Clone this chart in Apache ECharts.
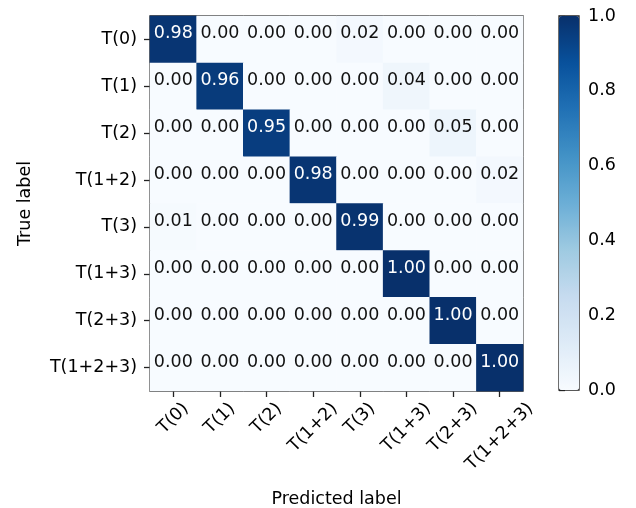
<!DOCTYPE html>
<html>
<head>
<meta charset="utf-8">
<script src="https://cdn.jsdelivr.net/npm/echarts@6/dist/echarts.min.js"></script>
<style>
html,body{margin:0;padding:0;background:#fff;}
#chart{width:636px;height:508px;}
</style>
</head>
<body>
<div id="chart"></div>
<script>
// Categories (true labels on rows, predicted labels on columns)
const classLabels = ['T(0)', 'T(1)', 'T(2)', 'T(1+2)', 'T(3)', 'T(1+3)', 'T(2+3)', 'T(1+2+3)'];
// Normalised confusion-matrix rows (true label -> predicted)
const rowT0    = [0.98, 0.00, 0.00, 0.00, 0.02, 0.00, 0.00, 0.00];
const rowT1    = [0.00, 0.96, 0.00, 0.00, 0.00, 0.04, 0.00, 0.00];
const rowT2    = [0.00, 0.00, 0.95, 0.00, 0.00, 0.00, 0.05, 0.00];
const rowT12   = [0.00, 0.00, 0.00, 0.98, 0.00, 0.00, 0.00, 0.02];
const rowT3    = [0.01, 0.00, 0.00, 0.00, 0.99, 0.00, 0.00, 0.00];
const rowT13   = [0.00, 0.00, 0.00, 0.00, 0.00, 1.00, 0.00, 0.00];
const rowT23   = [0.00, 0.00, 0.00, 0.00, 0.00, 0.00, 1.00, 0.00];
const rowT123  = [0.00, 0.00, 0.00, 0.00, 0.00, 0.00, 0.00, 1.00];
const matrixRows = [rowT0, rowT1, rowT2, rowT12, rowT3, rowT13, rowT23, rowT123];
// Colorbar tick values
const colorbarTicks = [0.0, 0.2, 0.4, 0.6, 0.8, 1.0];

const FONT = '"DejaVu Sans", sans-serif';
const FS = 17.5;
const blues = ['#f7fbff', '#deebf7', '#c6dbef', '#9ecae1', '#6baed6', '#4292c6', '#2171b5', '#08519c', '#08306b'];

const maxVal = Math.max(...matrixRows.map(r => Math.max(...r)));
const thresh = maxVal / 2;

const heatData = [];
matrixRows.forEach((row, i) => {
  row.forEach((v, j) => {
    heatData.push({
      value: [j, i, v],
      label: { color: v > thresh ? '#ffffff' : '#111111' }
    });
  });
});

// measure label widths to emulate matplotlib's centred rotated tick labels
const cv = document.createElement('canvas').getContext('2d');
cv.font = FS + 'px ' + FONT;
const xRich = {};
classLabels.forEach((l, i) => {
  const w = cv.measureText(l).width;
  xRich['l' + i] = {
    fontSize: FS, fontFamily: FONT, color: '#000',
    padding: [w / 2, w / 2, 0, 0]
  };
});

const chart = echarts.init(document.getElementById('chart'), null, { renderer: 'canvas' });
chart.setOption({
  animation: false,
  backgroundColor: '#ffffff',
  textStyle: { fontFamily: FONT },
  grid: [
    { left: 150, top: 16, width: 373, height: 375, show: true, borderColor: '#222', borderWidth: 1.3, backgroundColor: 'transparent', containLabel: false, outerBoundsMode: 'none' },
    { left: 559, top: 16, width: 20, height: 374, show: true, borderColor: '#222', borderWidth: 1.3, backgroundColor: 'transparent', containLabel: false, outerBoundsMode: 'none' }
  ],
  xAxis: [
    {
      type: 'category', gridIndex: 0, data: classLabels, position: 'bottom',
      name: 'Predicted label', nameLocation: 'middle', nameGap: 99, nameMoveOverlap: false,
      nameTextStyle: { fontSize: FS, color: '#000', fontFamily: FONT },
      axisLine: { show: false },
      axisTick: { show: true, alignWithLabel: true, length: 6, lineStyle: { color: '#222', width: 1.3 } },
      axisLabel: {
        rotate: 45, align: 'center', verticalAlign: 'middle', margin: 15,
        fontSize: FS, color: '#000', fontFamily: FONT, interval: 0, hideOverlap: false,
        formatter: (v, i) => '{l' + i + '|' + v + '}',
        rich: xRich
      },
      splitLine: { show: false }, splitArea: { show: false }
    },
    { type: 'value', gridIndex: 1, min: 0, max: 1, show: false }
  ],
  yAxis: [
    {
      type: 'category', gridIndex: 0, data: classLabels, inverse: true,
      name: 'True label', nameLocation: 'middle', nameGap: 116, nameRotate: 90, nameMoveOverlap: false,
      nameTextStyle: { fontSize: FS, color: '#000', fontFamily: FONT },
      axisLine: { show: false },
      axisTick: { show: true, alignWithLabel: true, length: 6, lineStyle: { color: '#222', width: 1.3 } },
      axisLabel: { margin: 13, fontSize: FS, color: '#000', fontFamily: FONT, interval: 0 },
      splitLine: { show: false }, splitArea: { show: false }
    },
    {
      type: 'value', gridIndex: 1, min: 0, max: 1, interval: 0.2, position: 'right',
      axisLine: { show: false },
      axisTick: { show: true, inside: false, length: 6, lineStyle: { color: '#222', width: 1.3 } },
      axisLabel: { margin: 9, fontSize: FS, color: '#000', fontFamily: FONT, formatter: v => colorbarTicks.includes(+v.toFixed(1)) ? v.toFixed(1) : '' },
      splitLine: { show: false }
    }
  ],
  visualMap: {
    type: 'continuous', min: 0, max: 1, seriesIndex: 0,
    calculable: false, hoverLink: false, realtime: false,
    orient: 'vertical', left: 559, top: 16, padding: 0,
    itemWidth: 20, itemHeight: 374, text: null, showLabel: false,
    inRange: { color: blues },
    textStyle: { color: 'transparent' }
  },
  series: [{
    type: 'heatmap', xAxisIndex: 0, yAxisIndex: 0,
    data: heatData,
    itemStyle: { borderWidth: 0 },
    emphasis: { disabled: true },
    label: {
      show: true, fontSize: FS, fontFamily: FONT,
      formatter: p => p.value[2].toFixed(2),
      offset: [0, -5.5]
    }
  }]
});
</script>
</body>
</html>
